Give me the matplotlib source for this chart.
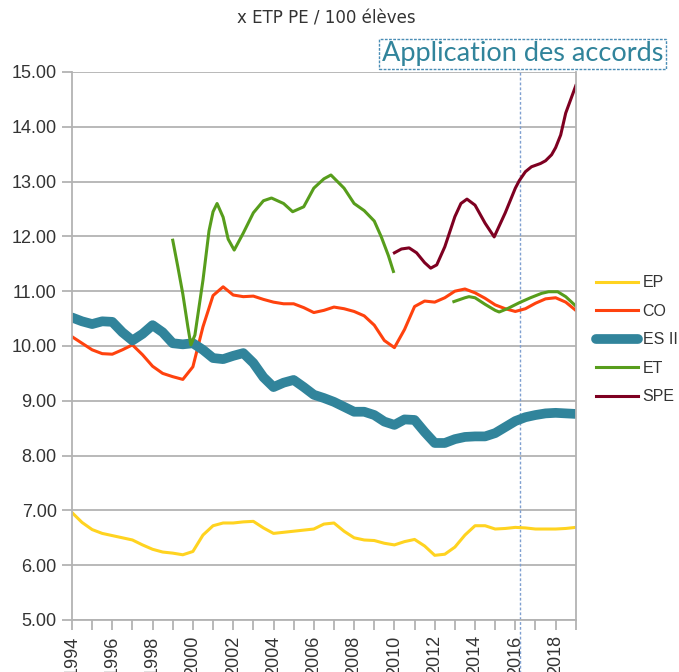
import numpy as np
import matplotlib
matplotlib.use('Agg')
import matplotlib.pyplot as plt

plt.rcParams['font.family'] = ['Liberation Sans', 'DejaVu Sans']

# half-year grid for the three full series
years = np.arange(1994, 2019.01, 0.5)

ep = [6.96, 6.78, 6.65, 6.58, 6.54, 6.50, 6.46, 6.37, 6.29, 6.24,
      6.22, 6.19, 6.25, 6.55, 6.72, 6.77, 6.77, 6.79, 6.80, 6.68,
      6.58, 6.60, 6.62, 6.64, 6.66, 6.75, 6.77, 6.62, 6.50, 6.46,
      6.45, 6.40, 6.37, 6.43, 6.47, 6.35, 6.18, 6.20, 6.33, 6.55,
      6.72, 6.72, 6.66, 6.67, 6.69, 6.68, 6.66, 6.66, 6.66, 6.67,
      6.69]

co = [10.17, 10.05, 9.93, 9.86, 9.85, 9.93, 10.02, 9.84, 9.63, 9.50,
      9.44, 9.39, 9.62, 10.35, 10.92, 11.08, 10.93, 10.90, 10.91, 10.85,
      10.80, 10.77, 10.77, 10.70, 10.61, 10.65, 10.71, 10.68, 10.63, 10.55,
      10.38, 10.10, 9.97, 10.30, 10.72, 10.82, 10.80, 10.88, 11.00, 11.04,
      10.97, 10.87, 10.75, 10.68, 10.63, 10.68, 10.78, 10.86, 10.88, 10.80,
      10.65]

es2 = [10.52, 10.45, 10.40, 10.45, 10.44, 10.25, 10.10, 10.22, 10.38, 10.25,
       10.05, 10.03, 10.05, 9.93, 9.78, 9.76, 9.82, 9.87, 9.69, 9.43,
       9.25, 9.33, 9.38, 9.25, 9.11, 9.05, 8.98, 8.89, 8.80, 8.80,
       8.74, 8.62, 8.56, 8.66, 8.65, 8.43, 8.23, 8.23, 8.30, 8.34,
       8.35, 8.35, 8.41, 8.52, 8.63, 8.70, 8.74, 8.77, 8.78, 8.77,
       8.76]

# ET has a gap between 2010 and 2013
et_years_a = [1999.0, 1999.25, 1999.5, 1999.75, 1999.9, 2000.1, 2000.5, 2000.8,
              2001.0, 2001.2, 2001.5, 2001.75, 2002.05, 2002.5, 2003.0, 2003.5,
              2003.9, 2004.5, 2004.95, 2005.5, 2006.0, 2006.5, 2006.85, 2007.5,
              2008.0, 2008.5, 2009.0, 2009.35, 2009.7, 2009.95]
et_vals_a = [11.93, 11.45, 10.95, 10.35, 10.02, 10.20, 11.20, 12.10,
             12.45, 12.60, 12.35, 11.95, 11.75, 12.06, 12.43, 12.65,
             12.70, 12.60, 12.45, 12.54, 12.88, 13.05, 13.12, 12.88,
             12.60, 12.47, 12.28, 11.99, 11.65, 11.36]

et_years_b = [2012.95, 2013.5, 2013.7, 2014.0, 2014.5, 2015.0, 2015.2, 2015.6,
              2016.2, 2016.75, 2017.3, 2017.65, 2018.1, 2018.5, 2019.0]
et_vals_b = [10.81, 10.88, 10.90, 10.88, 10.76, 10.65, 10.62, 10.68,
             10.79, 10.88, 10.96, 10.99, 10.99, 10.90, 10.73]

spe_years = [2010.0, 2010.35, 2010.73, 2011.1, 2011.5, 2011.8, 2012.1, 2012.5,
             2013.0, 2013.3, 2013.6, 2014.0, 2014.5, 2014.95, 2015.5, 2016.0,
             2016.2, 2016.5, 2016.8, 2017.25, 2017.5, 2017.8, 2018.0, 2018.25,
             2018.5, 2018.75, 2019.0]
spe_vals = [11.70, 11.77, 11.79, 11.70, 11.52, 11.42, 11.48, 11.81,
            12.36, 12.60, 12.68, 12.57, 12.24, 11.99, 12.43, 12.88,
            13.02, 13.18, 13.27, 13.33, 13.38, 13.49, 13.62, 13.85,
            14.25, 14.50, 14.75]

accord_year = 2016.25
grid_grey = '#b3b3b3'

fig = plt.figure(figsize=(6.79, 6.72), dpi=100)
ax = fig.add_axes([0.106, 0.0774, 0.742, 0.8155])

ax.plot(years, ep, color='#ffd320', lw=2.2, label='EP', solid_joinstyle='round')
ax.plot(years, co, color='#ff420e', lw=2.2, label='CO', solid_joinstyle='round')
ax.plot(years, es2, color='#31849b', lw=7, label='ES II',
        solid_joinstyle='round', solid_capstyle='round')
ax.plot(et_years_a, et_vals_a, color='#579d1c', lw=2.2, label='ET', solid_joinstyle='round')
ax.plot(et_years_b, et_vals_b, color='#579d1c', lw=2.2, solid_joinstyle='round')
ax.plot(spe_years, spe_vals, color='#7e0021', lw=2.2, label='SPE', solid_joinstyle='round')

# "Application des accords" marker line
ax.plot([accord_year, accord_year], [4.0, 15.04], color='#7f9fd0', lw=1,
        linestyle=(0, (2, 1.5)), clip_on=False, zorder=1)

ax.set_xlim(1994, 2019)
ax.set_ylim(5, 15)
ax.set_xticks(range(1994, 2020))
ax.set_xticklabels([str(y) if y % 2 == 0 and y < 2019 else '' for y in range(1994, 2020)],
                   rotation=90, fontsize=13, color='#333333')
ax.set_yticks(range(5, 16))
ax.set_yticklabels(['%.2f' % v for v in range(5, 16)], fontsize=13, color='#333333')
ax.tick_params(axis='both', color=grid_grey, length=7, width=1.3, pad=4)
ax.grid(axis='y', color=grid_grey, lw=1.3)
ax.set_axisbelow(True)
for s in ax.spines.values():
    s.set_color(grid_grey)
    s.set_linewidth(1.3)
ax.spines['top'].set_visible(False)

fig.text(0.48, 0.972, 'x ETP PE / 100 élèves', ha='center', va='center',
         fontsize=12, color='#333333', family=['DejaVu Sans'])
fig.text(0.770, 0.920, 'Application des accords', ha='center', va='center',
         fontsize=19.5, color='#31849b', family=['Lato', 'DejaVu Sans'],
         bbox=dict(boxstyle='square,pad=0.1', fc='white', ec='#4a8db5',
                   lw=1, linestyle=(0, (2, 1))))

leg = fig.legend(loc='upper left', bbox_to_anchor=(0.857, 0.612), frameon=False,
                 fontsize=11.5, handlelength=2.6, labelspacing=0.85, handletextpad=0.3)
for t in leg.get_texts():
    t.set_color('#333333')

fig.savefig('out.png', dpi=100)
